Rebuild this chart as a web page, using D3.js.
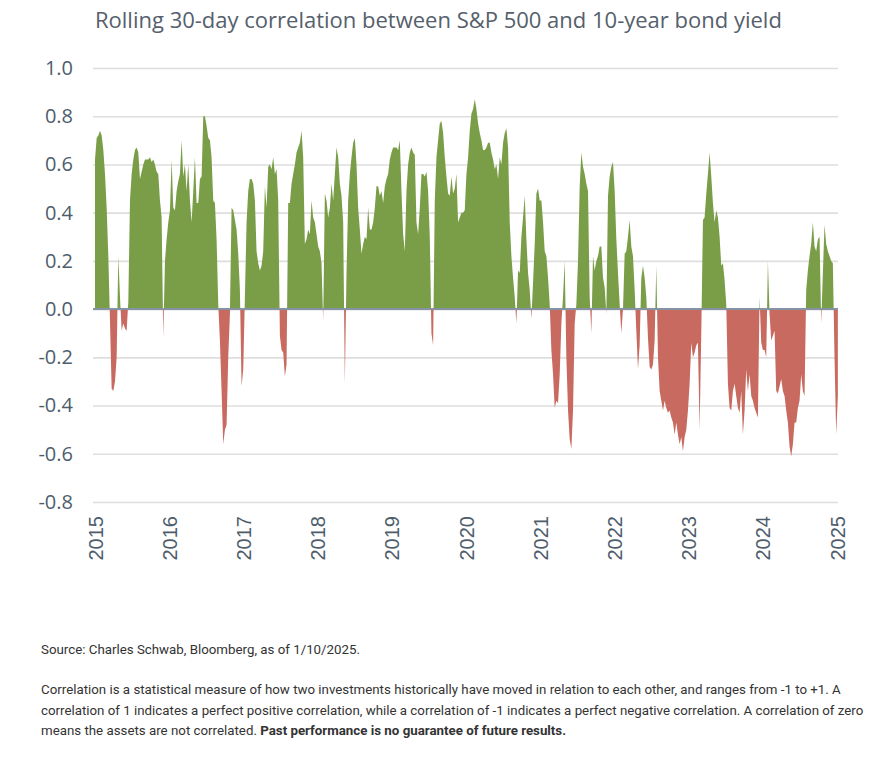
<!DOCTYPE html>
<html>
<head>
<meta charset="utf-8">
<script src="https://cdn.jsdelivr.net/npm/d3@7"></script>
<style>
  body { margin: 0; background: #fff; }
</style>
</head>
<body>
<svg id="chart" width="888" height="766"></svg>
<script>
// === data === //

var title = "Rolling 30-day correlation between S&P 500 and 10-year bond yield"

var startDate = "2015-01-01"
var stepDays = 8.2

// rolling correlation at ~8 day steps
var corr2015 = [
  0.62, 0.71, 0.72, 0.74, 0.72, 0.66, 0.56, 0.42, 0.22, -0.05,
  -0.33, -0.34, -0.30, -0.20, 0.22, 0.05, -0.09, -0.06, -0.08, -0.09,
  0.03, 0.45, 0.56, 0.62, 0.66, 0.67, 0.65, 0.54, 0.57, 0.60,
  0.62, 0.62, 0.62, 0.63, 0.61, 0.62, 0.60, 0.57, 0.56, 0.45,
  0.38, -0.12, 0.20, 0.29, 0.36, 0.41, 0.62, 0.42, 0.41, 0.49,
  0.53, 0.56, 0.70, 0.55, 0.60, 0.49, 0.60, 0.45, 0.36, 0.49,
  0.63, 0.44, 0.44, 0.54, 0.55, 0.80, 0.80, 0.76, 0.71, 0.70,
  0.63, 0.45, 0.44, 0.29, 0.02, -0.13, -0.34, -0.56, -0.50, -0.48,
  -0.20, -0.02, 0.42, 0.41, 0.37, 0.33, 0.23, 0.08, -0.32, -0.25,
  0.05, 0.36, 0.49, 0.54, 0.54, 0.52, 0.45, 0.24, 0.19, 0.16,
  0.18, 0.24, 0.51, 0.42, 0.59
]
var corr2017 = [
  0.60, 0.58, 0.63, 0.56, 0.58, 0.45, -0.11, -0.17, -0.18, -0.28,
  -0.23, 0.44, 0.44, 0.52, 0.56, 0.60, 0.65, 0.67, 0.69, 0.74,
  0.63, 0.27, 0.29, 0.33, 0.31, 0.45, 0.38, 0.36, 0.31, 0.26,
  0.24, 0.19, -0.05, 0.48, 0.45, 0.38, 0.42, 0.52, 0.45, 0.56,
  0.67, 0.63, 0.52, 0.47, 0.36, -0.31, 0.15, 0.45, 0.56, 0.63,
  0.69, 0.71, 0.60, 0.42, 0.33, 0.23, 0.27, 0.30, 0.29, 0.42,
  0.33, 0.33, 0.36, 0.42, 0.51, 0.51, 0.47, 0.49, 0.44, 0.51,
  0.54, 0.56, 0.62, 0.65, 0.67, 0.67, 0.67, 0.66, 0.70, 0.49,
  0.31, 0.24, 0.49, 0.60, 0.65, 0.67, 0.65, 0.64, 0.36, 0.31,
  0.42, 0.56, 0.56, 0.55, 0.57, 0.49, 0.30, -0.10, -0.15, 0.45,
  0.63, 0.70, 0.77, 0.78, 0.73, 0.63, 0.55, 0.48, 0.47, 0.55,
  0.48
]
var corr2020 = [
  0.50, 0.56, 0.36, 0.38, 0.40, 0.40, 0.41, 0.56, 0.63, 0.74,
  0.81, 0.83, 0.87, 0.83, 0.77, 0.73, 0.70, 0.66, 0.66, 0.67,
  0.69, 0.69, 0.65, 0.62, 0.58, 0.60, 0.54, 0.63, 0.60, 0.69,
  0.73, 0.75, 0.67, 0.36, 0.22, 0.13, 0.05, -0.06, 0.16, 0.15,
  0.30, 0.38, 0.47, 0.29, 0.15, 0.08, -0.04, 0.11, 0.27, 0.48,
  0.50, 0.45, 0.45, 0.36, 0.24, 0.22, 0.13, 0.02, -0.17, -0.27,
  -0.41, -0.38, -0.39, -0.27, -0.06, 0.05, 0.20, -0.20, -0.42, -0.54,
  -0.58, -0.42, -0.06, 0.02, 0.20, 0.51, 0.65, 0.59, 0.56, 0.52,
  0.49, 0.05, -0.10, 0.22, 0.16, 0.20, 0.22, 0.26, 0.26, 0.13,
  0.09, -0.02, 0.47, 0.55, 0.59, 0.61, 0.49, 0.29, 0.15, 0.02,
  -0.10, 0.00, 0.23, 0.24, 0.30, 0.37, 0.26, 0.22, 0.08, -0.09,
  -0.25
]
var corr2022 = [
  -0.15, 0.13, 0.18, 0.13, 0.05, -0.12, -0.24, -0.25, -0.23, -0.13,
  0.18, -0.20, -0.34, -0.38, -0.42, -0.38, -0.41, -0.43, -0.42, -0.45,
  -0.47, -0.52, -0.47, -0.52, -0.56, -0.53, -0.59, -0.53, -0.50, -0.42,
  -0.31, -0.14, -0.20, -0.18, -0.15, -0.14, -0.50, -0.10, 0.37, 0.38,
  0.48, 0.56, 0.65, 0.55, 0.44, 0.36, 0.41, 0.38, 0.30, 0.18,
  0.19, 0.12, 0.02, -0.31, -0.41, -0.42, -0.34, -0.31, -0.36, -0.41,
  -0.43, -0.34, -0.52, -0.42, -0.25, -0.34, -0.27, -0.36, -0.38, -0.41,
  -0.43, -0.45, 0.05, -0.14, -0.17, -0.17, -0.20, 0.20, -0.02, -0.13,
  -0.11, -0.09, -0.34, -0.35, -0.32, -0.29, -0.34, -0.36, -0.42, -0.47,
  -0.57, -0.61, -0.56, -0.47, -0.47, -0.41, -0.38, -0.27, -0.34, -0.36,
  0.08, 0.16, 0.22, 0.27, 0.36, 0.26, 0.24, 0.29, 0.30, -0.06,
  0.15, 0.35, 0.27, 0.24, 0.22, 0.20, 0.19, -0.20, -0.52, -0.36
]

var years = ["2015", "2016", "2017", "2018", "2019", "2020", "2021", "2022", "2023", "2024", "2025"]
var yTicks = [1.0, 0.8, 0.6, 0.4, 0.2, 0.0, -0.2, -0.4, -0.6, -0.8]
var yTickLabels = ["1.0", "0.8", "0.6", "0.4", "0.2", "0.0", "-0.2", "-0.4", "-0.6", "-0.8"]

var sourceNote = "Source: Charles Schwab, Bloomberg, as of 1/10/2025."
var noteLines = [
  "Correlation is a statistical measure of how two investments historically have moved in relation to each other, and ranges from -1 to +1. A",
  "correlation of 1 indicates a perfect positive correlation, while a correlation of -1 indicates a perfect negative correlation. A correlation of zero",
  "means the assets are not correlated. "
]
var noteBold = "Past performance is no guarantee of future results."

// === set up === //

var svgW = 888
var svgH = 766

var marginleft = 93
var plotRight = 838
var plotTop = 68
var plotBottom = 502

var green = "#7a9e47"
var red = "#c86a5f"
var textColor = "#4e5d6c"

var parseDate = d3.timeParse("%Y-%m-%d")
var t0 = parseDate(startDate)
var values = corr2015.concat(corr2017, corr2020, corr2022)
var data = values.map(function(v, i) {
  return { date: new Date(t0.getTime() + i * stepDays * 864e5), value: v }
})

var x = d3.scaleTime()
  .domain([parseDate("2015-01-01"), parseDate("2025-01-01")])
  .range([95, 837])

var y = d3.scaleLinear()
  .domain([-0.8, 1.0])
  .range([plotBottom, plotTop])

var svg = d3.select("#chart")

svg.append("text")
  .attr("x", 95)
  .attr("y", 28)
  .attr("font-family", "Open Sans, sans-serif")
  .attr("font-size", 22)
  .attr("fill", "#55606c")
  .text(title)

// grid + y labels
var yAxis = d3.axisLeft(y)
  .tickValues(yTicks)
  .tickSize(-(plotRight - marginleft))
  .tickPadding(20)
  .tickFormat(function(d, i) { return yTickLabels[i] })

var gy = svg.append("g")
  .attr("transform", "translate(" + marginleft + ",0)")
  .call(yAxis)
gy.select(".domain").remove()
gy.selectAll(".tick line").attr("stroke", "#dedede").attr("stroke-width", 1.6)
gy.selectAll(".tick text")
  .attr("font-family", "Open Sans, sans-serif")
  .attr("font-size", 20)
  .attr("fill", textColor)

// areas
var defs = svg.append("defs")
defs.append("clipPath").attr("id", "clipUp")
  .append("rect")
  .attr("x", 0).attr("y", 0)
  .attr("width", svgW).attr("height", y(0))
defs.append("clipPath").attr("id", "clipDown")
  .append("rect")
  .attr("x", 0).attr("y", y(0))
  .attr("width", svgW).attr("height", svgH - y(0))

var area = d3.area()
  .x(function(d) { return x(d.date) })
  .y0(y(0))
  .y1(function(d) { return y(d.value) })

svg.append("path")
  .datum(data)
  .attr("clip-path", "url(#clipUp)")
  .attr("fill", green)
  .attr("d", area)

svg.append("path")
  .datum(data)
  .attr("clip-path", "url(#clipDown)")
  .attr("fill", red)
  .attr("d", area)

// zero line
svg.append("line")
  .attr("x1", marginleft).attr("x2", plotRight)
  .attr("y1", y(0)).attr("y2", y(0))
  .attr("stroke", "#8693a5")
  .attr("stroke-width", 2)

// x labels
var xAxis = d3.axisBottom(x)
  .tickValues(years.map(function(d) { return parseDate(d + "-01-01") }))
  .tickSize(0)
  .tickFormat(d3.timeFormat("%Y"))

var gx = svg.append("g")
  .attr("transform", "translate(0," + plotBottom + ")")
  .call(xAxis)
gx.select(".domain").remove()
gx.selectAll(".tick text")
  .attr("font-family", "Liberation Sans, Arial, sans-serif")
  .attr("font-size", 20)
  .attr("fill", textColor)
  .attr("text-anchor", "end")
  .attr("transform", "rotate(-90)")
  .attr("x", -14)
  .attr("y", 0)
  .attr("dy", "0.36em")

// footnote
var noteFont = "Roboto, sans-serif"
var noteSize = 13.3
svg.append("text")
  .attr("x", 41)
  .attr("y", 654)
  .attr("font-family", noteFont)
  .attr("font-size", noteSize)
  .attr("fill", "#333")
  .text(sourceNote)

var note = svg.append("text")
  .attr("font-family", noteFont)
  .attr("font-size", noteSize)
  .attr("fill", "#333")

noteLines.forEach(function(line, i) {
  note.append("tspan")
    .attr("x", 41)
    .attr("y", 694 + i * 20.5)
    .text(line)
})
note.append("tspan")
  .attr("font-weight", "bold")
  .text(noteBold)
</script>
</body>
</html>
